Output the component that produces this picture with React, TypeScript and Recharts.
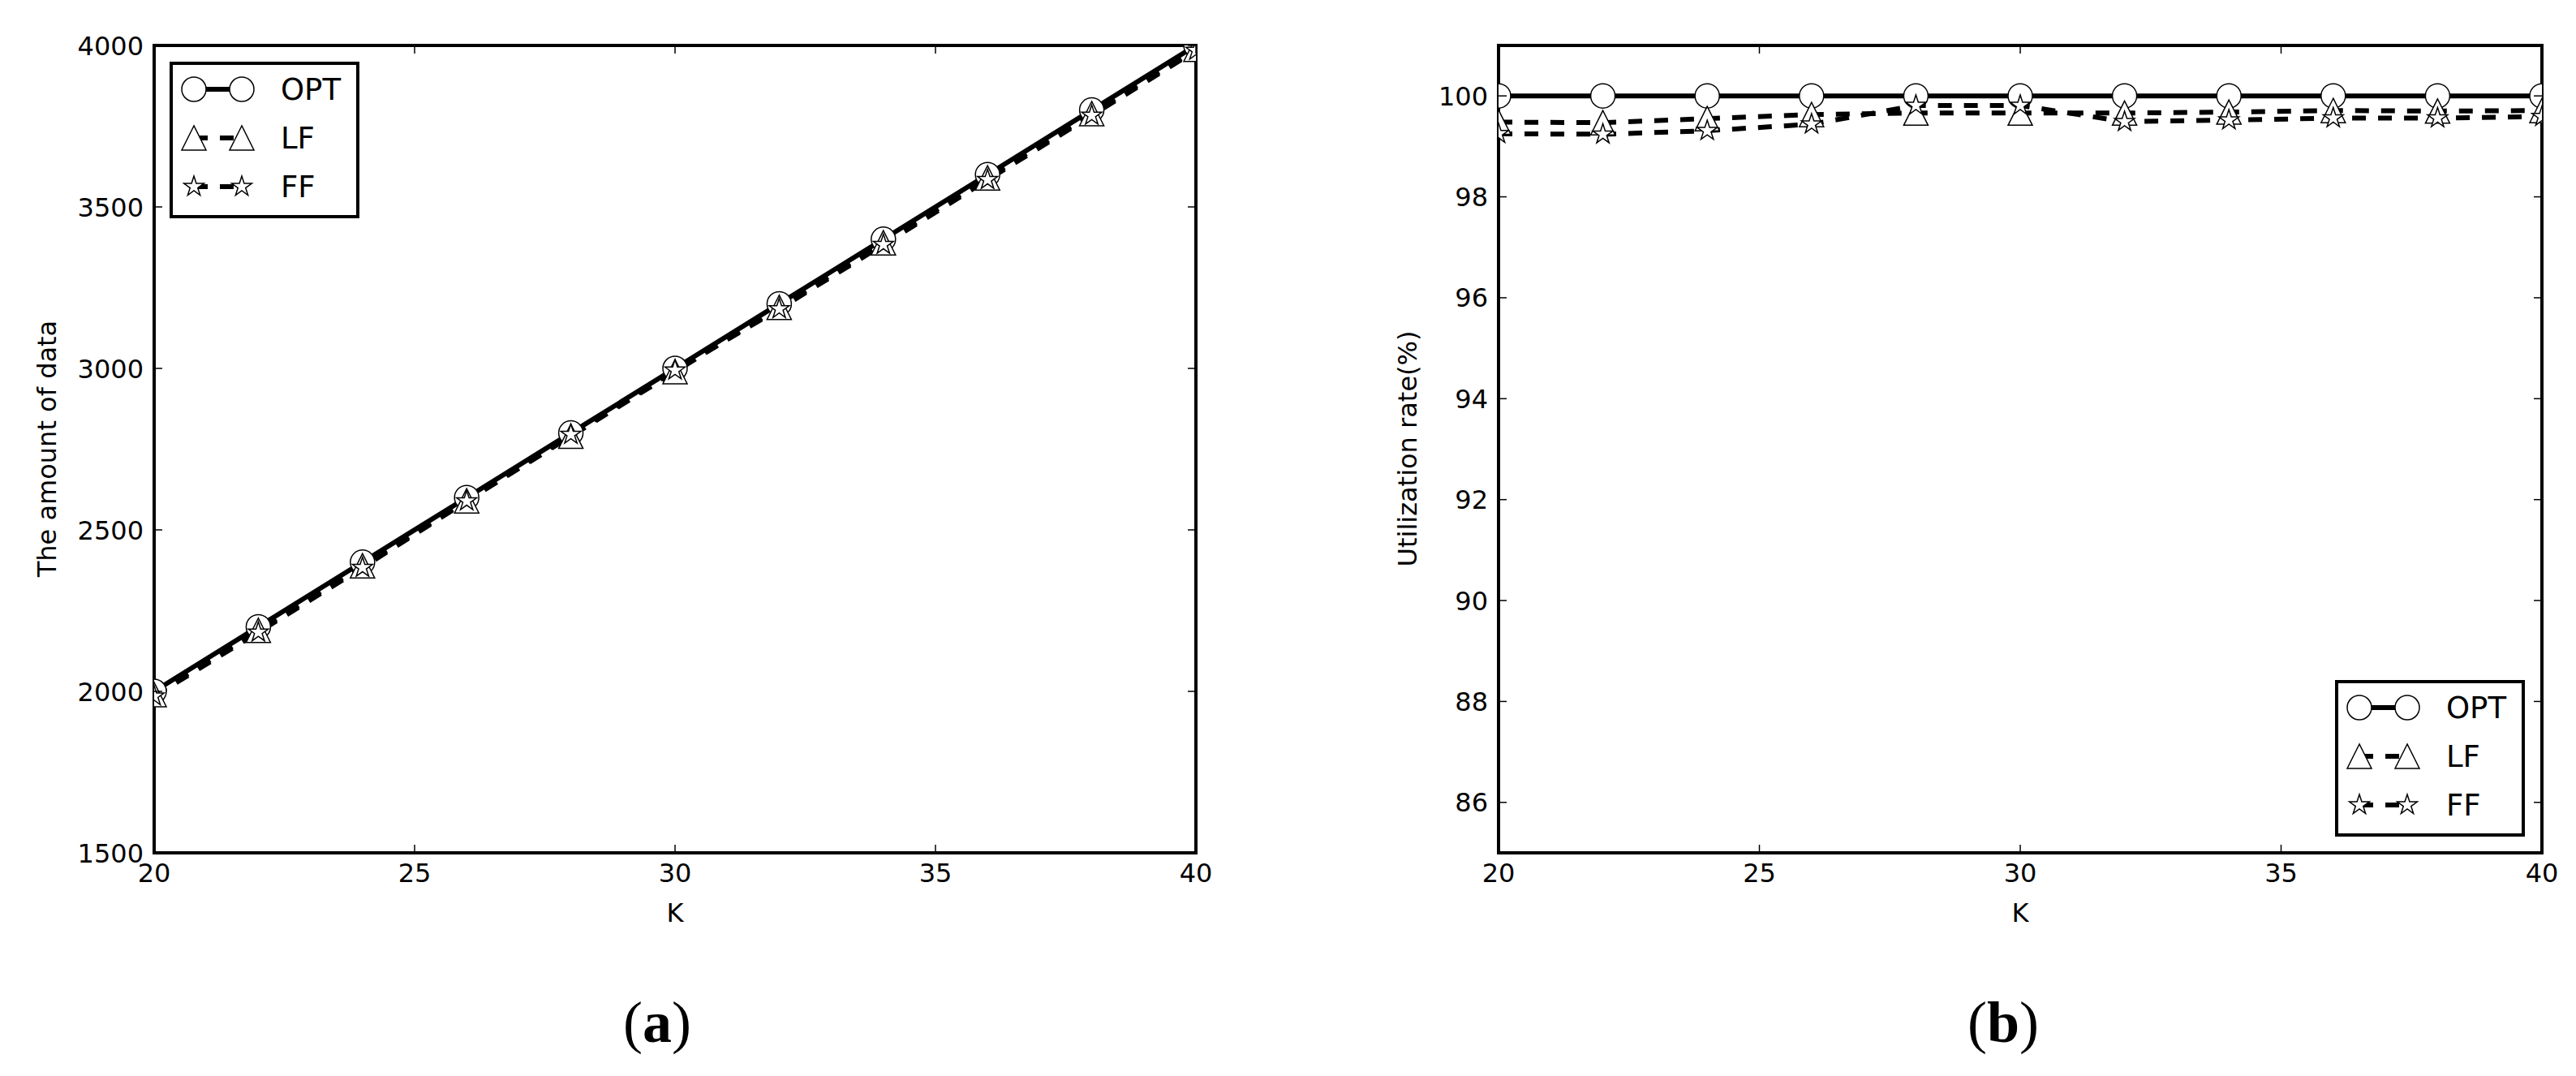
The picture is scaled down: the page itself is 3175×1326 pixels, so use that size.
import React from 'react';
import { LineChart, Line, XAxis, YAxis, Legend } from 'recharts';

// K values shared by both panels
const K_VALUES = [20, 22, 24, 26, 28, 30, 32, 34, 36, 38, 40];

// (a) amount of data
const OPT_AMOUNT = [2000, 2200, 2400, 2600, 2800, 3000, 3200, 3400, 3600, 3800, 4000];
const LF_AMOUNT = [1990, 2189, 2389, 2590, 2790, 2990, 3189, 3389, 3590, 3789, 3988];
const FF_AMOUNT = [1985, 2183, 2383, 2589, 2795, 2994, 3184, 3383, 3584, 3783, 3984];

// (b) utilization rate (%)
const OPT_RATE = [100, 100, 100, 100, 100, 100, 100, 100, 100, 100, 100];
const LF_RATE = [99.48, 99.47, 99.55, 99.63, 99.66, 99.66, 99.66, 99.68, 99.71, 99.7, 99.71];
const FF_RATE = [99.25, 99.24, 99.31, 99.44, 99.81, 99.81, 99.49, 99.52, 99.56, 99.56, 99.59];

const X_TICKS = [20, 25, 30, 35, 40];
const AMOUNT_TICKS = [1500, 2000, 2500, 3000, 3500, 4000];
const RATE_TICKS = [86, 88, 90, 92, 94, 96, 98, 100];
const SERIES_NAMES = ['OPT', 'LF', 'FF'];

const FONT = '"DejaVu Sans", sans-serif';
const TICK_LEN = 10;
const FRAME = { stroke: '#000', strokeWidth: 4, strokeLinecap: 'square' as const };

const amountData = K_VALUES.map((k, i) => ({ k, opt: OPT_AMOUNT[i], lf: LF_AMOUNT[i], ff: FF_AMOUNT[i] }));
const rateData = K_VALUES.map((k, i) => ({ k, opt: OPT_RATE[i], lf: LF_RATE[i], ff: FF_RATE[i] }));

// ---- markers ----
function circleMark(cx: number, cy: number, key?: string) {
  return <circle key={key} cx={cx} cy={cy} r={15} fill="#fff" stroke="#000" strokeWidth={1.5} />;
}

function triangleMark(cx: number, cy: number, key?: string) {
  const pts = `${cx},${cy - 15} ${cx - 15},${cy + 15} ${cx + 15},${cy + 15}`;
  return <polygon key={key} points={pts} fill="#fff" stroke="#000" strokeWidth={1.5} strokeLinejoin="miter" />;
}

function starMark(cx: number, cy: number, key?: string) {
  const R = 13;
  const r = R * 0.381966;
  const pts: string[] = [];
  for (let i = 0; i < 10; i++) {
    const rad = i % 2 === 0 ? R : r;
    const a = -Math.PI / 2 + (i * Math.PI) / 5;
    pts.push(`${cx + rad * Math.cos(a)},${cy + rad * Math.sin(a)}`);
  }
  return <polygon key={key} points={pts.join(' ')} fill="#fff" stroke="#000" strokeWidth={1.5} />;
}

const MARKERS = [circleMark, triangleMark, starMark];
const DASHES = [undefined, '17 15', '17 15'];
const KEYS = ['opt', 'lf', 'ff'];

// ---- ticks (inward, matplotlib classic style) ----
function makeTick(side: 'bottom' | 'top' | 'left' | 'right', showLabel: boolean) {
  return (props: any) => {
    const { x, y, payload, index } = props;
    let x2 = x;
    let y2 = y;
    if (side === 'bottom') y2 = y - TICK_LEN;
    if (side === 'top') y2 = y + TICK_LEN;
    if (side === 'left') x2 = x + TICK_LEN;
    if (side === 'right') x2 = x - TICK_LEN;
    return (
      <g key={`${side}-${index}`}>
        <line x1={x} y1={y} x2={x2} y2={y2} stroke="#000" strokeWidth={1.5} />
        {showLabel && side === 'bottom' && (
          <text x={x} y={y + 36} textAnchor="middle" fontSize={32} fontFamily={FONT} fill="#000">
            {payload.value}
          </text>
        )}
        {showLabel && side === 'left' && (
          <text x={x - 13} y={y + 11.5} textAnchor="end" fontSize={32} fontFamily={FONT} fill="#000">
            {payload.value}
          </text>
        )}
      </g>
    );
  };
}

// ---- legend box ----
function LegendBox() {
  const rows = [34, 94, 154];
  return (
    <svg width={234} height={193} style={{ display: 'block' }}>
      <rect x={2} y={2} width={230} height={189} fill="#fff" stroke="#000" strokeWidth={4} />
      {SERIES_NAMES.map((name, i) => {
        const y = rows[i];
        return (
          <g key={name}>
            <line x1={30} y1={y} x2={89} y2={y} stroke="#000" strokeWidth={6} strokeDasharray={DASHES[i]} />
            {MARKERS[i](30, y)}
            {MARKERS[i](89, y)}
            <text x={137} y={y + 13} fontSize={37} fontFamily={FONT} fill="#000">
              {name}
            </text>
          </g>
        );
      })}
    </svg>
  );
}

interface PanelProps {
  data: any[];
  width: number;
  margin: { top: number; right: number; bottom: number; left: number };
  yDomain: [number, number];
  yTicks: number[];
  legendPos: { left: number; top: number };
}

// axes are 1px thick boxes (Recharts skips zero-size axes); margins are reduced by 1 to compensate
function Panel({ data, width, margin, yDomain, yTicks, legendPos }: PanelProps) {
  return (
    <LineChart width={width} height={1326} data={data} margin={margin}>
      <XAxis xAxisId="b" dataKey="k" type="number" domain={[20, 40]} ticks={X_TICKS} interval={0}
        allowDataOverflow orientation="bottom" height={1} tickSize={0} tickMargin={0}
        tickLine={false} axisLine={FRAME} tick={makeTick('bottom', true)} />
      <XAxis xAxisId="t" dataKey="k" type="number" domain={[20, 40]} ticks={X_TICKS} interval={0}
        allowDataOverflow orientation="top" height={1} tickSize={0} tickMargin={0}
        tickLine={false} axisLine={FRAME} tick={makeTick('top', false)} />
      <YAxis yAxisId="l" type="number" domain={yDomain} ticks={yTicks} interval={0}
        allowDataOverflow orientation="left" width={1} tickSize={0} tickMargin={0}
        tickLine={false} axisLine={FRAME} tick={makeTick('left', true)} />
      <YAxis yAxisId="r" type="number" domain={yDomain} ticks={yTicks} interval={0}
        allowDataOverflow orientation="right" width={1} tickSize={0} tickMargin={0}
        tickLine={false} axisLine={FRAME} tick={makeTick('right', false)} />
      {KEYS.map((key, i) => (
        <Line key={key} xAxisId="b" yAxisId="l" type="linear" dataKey={key} name={SERIES_NAMES[i]}
          stroke="#000" strokeWidth={6} strokeDasharray={DASHES[i]} isAnimationActive={false}
          dot={(p: any) => MARKERS[i](p.cx, p.cy, `${key}-${p.index}`)} activeDot={false} />
      ))}
      <Legend layout="vertical" align="center" verticalAlign="middle" content={() => <LegendBox />}
        wrapperStyle={{ left: legendPos.left, top: legendPos.top, width: 234, height: 193 }} />
    </LineChart>
  );
}

export default function App() {
  return (
    <div style={{ position: 'relative', width: 3175, height: 1326, background: '#fff', overflow: 'hidden' }}>
      <style>{'body{margin:0;background:#fff}'}</style>
      <div style={{ position: 'absolute', left: 0, top: 0 }}>
        <Panel data={amountData} width={1600} margin={{ top: 55, right: 125, bottom: 274, left: 189 }}
          yDomain={[1500, 4000]} yTicks={AMOUNT_TICKS} legendPos={{ left: 209, top: 76 }} />
      </div>
      <div style={{ position: 'absolute', left: 1600, top: 0 }}>
        <Panel data={rateData} width={1575} margin={{ top: 55, right: 41, bottom: 274, left: 246 }}
          yDomain={[85, 101]} yTicks={RATE_TICKS} legendPos={{ left: 1278, top: 838 }} />
      </div>
      <svg width={3175} height={1326} style={{ position: 'absolute', left: 0, top: 0, pointerEvents: 'none' }}>
        <text transform="translate(69,553) rotate(-90)" textAnchor="middle" fontSize={32} fontFamily={FONT}>
          The amount of data
        </text>
        <text x={832} y={1136} textAnchor="middle" fontSize={32} fontFamily={FONT}>K</text>
        <text transform="translate(1746,553) rotate(-90)" textAnchor="middle" fontSize={32} fontFamily={FONT}>
          Utilization rate(%)
        </text>
        <text x={2490} y={1136} textAnchor="middle" fontSize={32} fontFamily={FONT}>K</text>
        <text x={810} y={1284} textAnchor="middle" fontSize={72} fontFamily='"Liberation Serif", serif'>
          (<tspan fontWeight="bold">a</tspan>)
        </text>
        <text x={2469} y={1284} textAnchor="middle" fontSize={72} fontFamily='"Liberation Serif", serif'>
          (<tspan fontWeight="bold">b</tspan>)
        </text>
      </svg>
    </div>
  );
}
